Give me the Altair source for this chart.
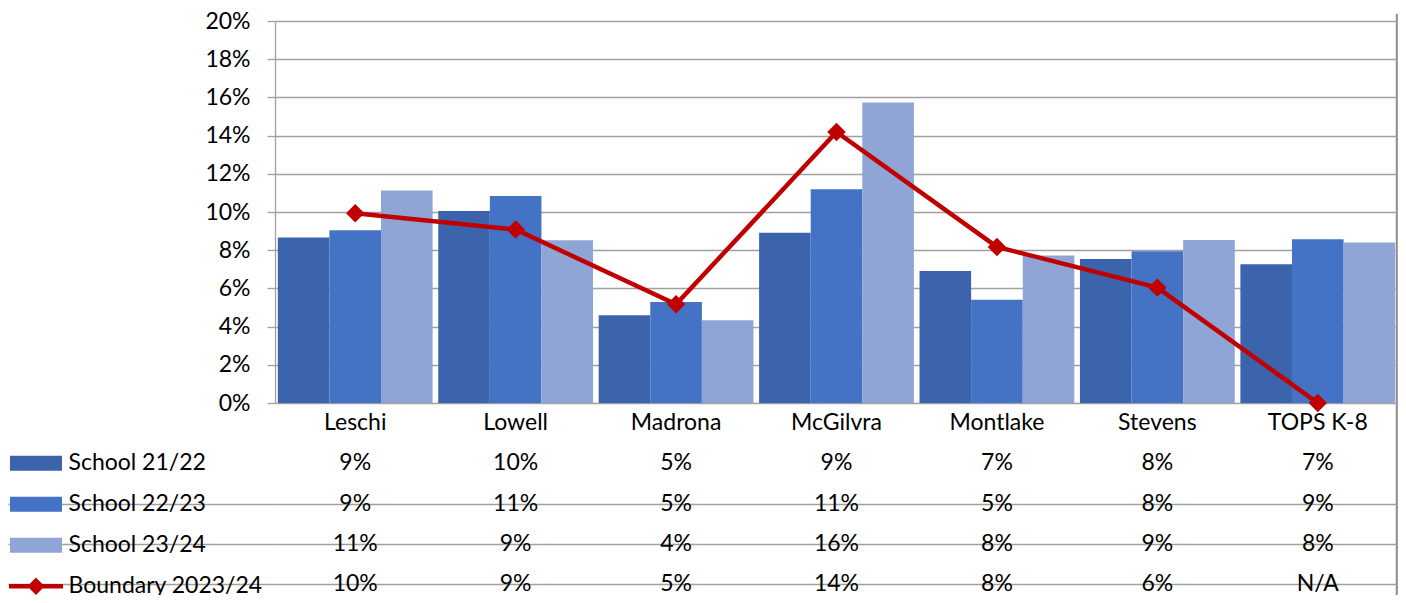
import altair as alt
import pandas as pd

categories = ["Leschi", "Lowell", "Madrona", "McGilvra", "Montlake", "Stevens", "TOPS K-8"]
series_names = ["School 21/22", "School 22/23", "School 23/24", "Boundary 2023/24"]

school_2122 = [0.0866, 0.1005, 0.0459, 0.0892, 0.0691, 0.0754, 0.0726]
school_2223 = [0.0904, 0.1084, 0.0529, 0.1119, 0.0541, 0.0794, 0.0857]
school_2324 = [0.1113, 0.0852, 0.0433, 0.1573, 0.0772, 0.0853, 0.0840]
boundary_2324 = [0.0993, 0.0908, 0.0517, 0.1419, 0.0817, 0.0604, None]  # TOPS K-8: N/A

y_ticks = [0, 0.02, 0.04, 0.06, 0.08, 0.10, 0.12, 0.14, 0.16, 0.18, 0.20]

bar_colors = ["#3C64AD", "#4472C4", "#8FA5D6"]
line_color = "#C00000"
GRID = "#A0A0A0"
BORDER = "#8C8C8C"
FONT = "Lato"
FS = 23
ROW_H = 40.2

# ---- data tables ----
bar_rows = []
for name, vals in zip(series_names[:3], [school_2122, school_2223, school_2324]):
    for c, v in zip(categories, vals):
        bar_rows.append({"category": c, "series": name, "value": v})
bars_df = pd.DataFrame(bar_rows)

# Excel plots the missing boundary value at zero
line_df = pd.DataFrame({
    "category": categories,
    "series": series_names[3],
    "value": [v if v is not None else 0.0 for v in boundary_2324],
})

HEADER = "category"
table_rows = [{"category": c, "row": HEADER, "label": c} for c in categories]
for name, vals in zip(series_names, [school_2122, school_2223, school_2324, boundary_2324]):
    for c, v in zip(categories, vals):
        table_rows.append({
            "category": c, "row": name,
            "label": "N/A" if v is None else f"{v * 100:.0f}%",
        })
table_df = pd.DataFrame(table_rows)
row_order = [HEADER] + series_names

# ---- scales / encodings ----
color_scale = alt.Scale(domain=series_names, range=bar_colors + [line_color])

# legend keys (unit square scaled by sqrt(symbolSize)/2 = 25 px), stroke 4.5 px
rect_path = "M-0.95,-0.21L0.95,-0.21L0.95,0.21L-0.95,0.21Z"
line_path = "M-1.08,0L1.08,0M0,-0.22L0.22,0L0,0.22L-0.22,0Z"
is_line = "datum.value === 'Boundary 2023/24'"

legend = alt.Legend(
    title=None, orient="none", legendX=-266.5, legendY=382 + ROW_H, direction="vertical",
    labelFont=FONT, labelFontSize=FS, labelColor="black", labelOffset=5, labelLimit=400,
    symbolSize=2500, symbolStrokeWidth=4.5, clipHeight=ROW_H, rowPadding=0, padding=0,
    symbolType={"expr": f"{is_line} ? '{line_path}' : '{rect_path}'"},
    symbolStrokeColor={"expr": "scale('color', datum.value)"},
    symbolFillColor={"expr": "scale('color', datum.value)"},
    symbolOpacity=1,
)

x_scale = alt.Scale(paddingInner=0.035, paddingOuter=0.0175)


def border_axis():
    # right-hand frame line of the plot / data table
    return alt.Axis(orient="bottom", values=["TOPS K-8"], bandPosition=1, title=None,
                    grid=True, gridColor=BORDER, gridWidth=2,
                    labels=False, ticks=False, domain=False, translate=1.8)


x_enc = alt.X("category:N", sort=categories, scale=x_scale, axis=border_axis())

y_axis = alt.Axis(
    values=y_ticks, format=".0%", title=None,
    grid=True, gridColor=GRID, gridWidth=1.3,
    domain=True, domainColor=GRID, domainWidth=1.3,
    ticks=True, tickColor=GRID, tickSize=8, tickWidth=1.3,
    labelFont=FONT, labelFontSize=FS, labelColor="black", labelPadding=17,
)
y_scale = alt.Scale(domain=[0, 0.2], range=[382, 0], nice=False, zero=True)
y_enc = alt.Y("value:Q", scale=y_scale, axis=y_axis)

bars = alt.Chart(bars_df).mark_bar().encode(
    x=x_enc,
    xOffset=alt.XOffset("series:N", sort=series_names[:3],
                        scale=alt.Scale(paddingInner=0, paddingOuter=0)),
    y=y_enc,
    color=alt.Color("series:N", scale=color_scale, legend=legend),
)

line = alt.Chart(line_df).mark_line(strokeWidth=4.5).encode(
    x=x_enc, y=y_enc,
    color=alt.Color("series:N", scale=color_scale, legend=legend),
)

points = alt.Chart(line_df).mark_point(shape="diamond", filled=True, size=340, opacity=1).encode(
    x=x_enc, y=y_enc,
    color=alt.Color("series:N", scale=color_scale, legend=legend),
)

table = alt.Chart(table_df).mark_text(
    font=FONT, fontSize=FS, color="black", align="center", baseline="middle"
).encode(
    x=alt.X("category:N", sort=categories, scale=x_scale, axis=border_axis()),
    y=alt.Y("row:N", sort=row_order,
            scale=alt.Scale(range=[382, 382 + 5 * ROW_H], paddingInner=0, paddingOuter=0),
            axis=alt.Axis(orient="left", values=series_names[1:], bandPosition=0, title=None,
                          grid=True, gridColor=GRID, gridWidth=1.3,
                          ticks=True, tickSize=267, tickColor=GRID, tickWidth=1.3,
                          labels=False, domain=False)),
    text="label:N",
)

chart = alt.layer(
    alt.layer(bars, line, points),
    table,
).resolve_scale(y="independent").resolve_axis(x="independent").properties(
    width=1123, height=574,
    autosize=alt.AutoSizeParams(type="none"),
    padding={"left": 267, "top": 13, "right": 0, "bottom": 0},
).configure(font=FONT, background="white").configure_view(stroke=None)

chart.save("out.html", embed_options={"renderer": "svg", "actions": False})
